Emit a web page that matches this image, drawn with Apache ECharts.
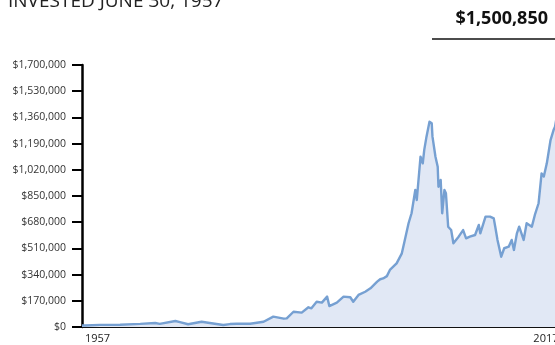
<!DOCTYPE html>
<html>
<head>
<meta charset="utf-8">
<script src="https://cdn.jsdelivr.net/npm/echarts@6/dist/echarts.min.js"></script>
<style>
html,body{margin:0;padding:0;background:#fff;}
#chart{width:555px;height:345px;}
</style>
</head>
<body>
<div id="chart"></div>
<script>
// Data (fractional years, dollar values)
var years = [1957.5,1957.9,1959.9,1962.6,1965.3,1967.3,1967.9,1970.0,1970.6,1971.7,1973.5,1974.6,1976.4,1977.3,1978.2,1980.0,1981.8,1983.1,1984.5,1984.9,1985.8,1986.9,1987.8,1988.2,1988.9,1989.6,1990.3,1990.6,1991.6,1992.5,1993.4,1993.8,1994.5,1995.4,1996.1,1997.0,1997.4,1997.8,1998.3,1998.7,1999.6,2000.3,2000.7,2001.2,2001.6,2002.1,2002.3,2002.8,2003.1,2003.3,2003.6,2004.0,2004.3,2004.4,2004.8,2005.1,2005.2,2005.5,2005.7,2006.0,2006.2,2006.5,2006.9,2007.2,2007.9,2008.5,2008.9,2009.4,2010.1,2010.6,2010.8,2011.5,2012.1,2012.6,2012.8,2013.1,2013.6,2014.0,2014.6,2015.0,2015.3,2015.7,2016.0,2016.6,2017.0,2017.7,2018.1,2018.6,2019.0,2019.3,2019.7,2020.2,2020.6,2020.8,2021.5];
var values = [10000,10000,14000,15000,20000,26000,20000,39000,32000,18000,34000,26000,13000,19000,21000,21000,34000,67000,54000,56000,99000,93000,128000,121000,164000,158000,197000,136000,158000,197000,193000,164000,208000,229000,251000,294000,310000,315000,330000,370000,413000,478000,565000,673000,738000,889000,824000,1105000,1062000,1149000,1235000,1332000,1322000,1235000,1105000,1040000,910000,954000,738000,889000,868000,651000,629000,543000,586000,629000,575000,586000,597000,662000,608000,716000,716000,705000,651000,565000,456000,511000,521000,565000,500000,608000,651000,565000,673000,651000,727000,803000,997000,976000,1062000,1213000,1278000,1300000,1500850];
var xTickYears = [1957.5, 2017.5];
var xTickLabels = ['1957', '2017'];
var yMax = 1700000, yStep = 170000;
var titleText = 'INVESTED JUNE 30, 1957';
var finalValueText = '$1,500,850';

var seriesData = years.map(function (y, i) { return [y, values[i]]; });

var chart = echarts.init(document.getElementById('chart'), null, {renderer: 'canvas'});
chart.setOption({
  animation: false,
  backgroundColor: '#fff',
  grid: {left: 82, top: 65, bottom: 18, width: 482, outerBoundsMode: 'none', containLabel: false},
  xAxis: {
    type: 'value', min: 1957.5, max: 2022,
    axisLine: {show: true, onZero: false, lineStyle: {color: '#111', width: 2}},
    axisTick: {show: false},
    splitLine: {show: false},
    axisLabel: {
      customValues: xTickYears,
      formatter: function (v) { var i = xTickYears.indexOf(v); return i >= 0 ? xTickLabels[i] : ''; },
      align: 'left', padding: [0, 0, 0, 3], margin: 6, hideOverlap: false,
      color: '#222', fontSize: 11, fontFamily: 'Open Sans'
    }
  },
  yAxis: {
    type: 'value', min: 0, max: yMax, interval: yStep,
    axisLine: {show: true, lineStyle: {color: '#000', width: 2.5}},
    axisTick: {show: true, length: 10, lineStyle: {color: '#000', width: 2}},
    splitLine: {show: false},
    axisLabel: {
      formatter: function (v) { return '$' + v.toLocaleString('en-US'); },
      margin: 16, color: '#333', fontSize: 10.5, fontFamily: 'Open Sans'
    }
  },
  series: [{
    type: 'line', data: seriesData, symbol: 'none', smooth: false,
    lineStyle: {color: '#76a0d2', width: 2.4, join: 'round'},
    areaStyle: {color: '#e1e8f5', opacity: 1},
    z: 1
  }],
  graphic: [
    {type: 'text', left: 8, top: -8, style: {text: titleText, fill: '#222', font: '500 19px "Open Sans"'}},
    {type: 'text', right: 7, top: 10, style: {text: finalValueText, fill: '#111', font: 'bold 18px "Open Sans"'}},
    {type: 'line', shape: {x1: 432, y1: 39, x2: 560, y2: 39}, style: {stroke: '#111', lineWidth: 1.5}}
  ]
});
</script>
</body>
</html>
